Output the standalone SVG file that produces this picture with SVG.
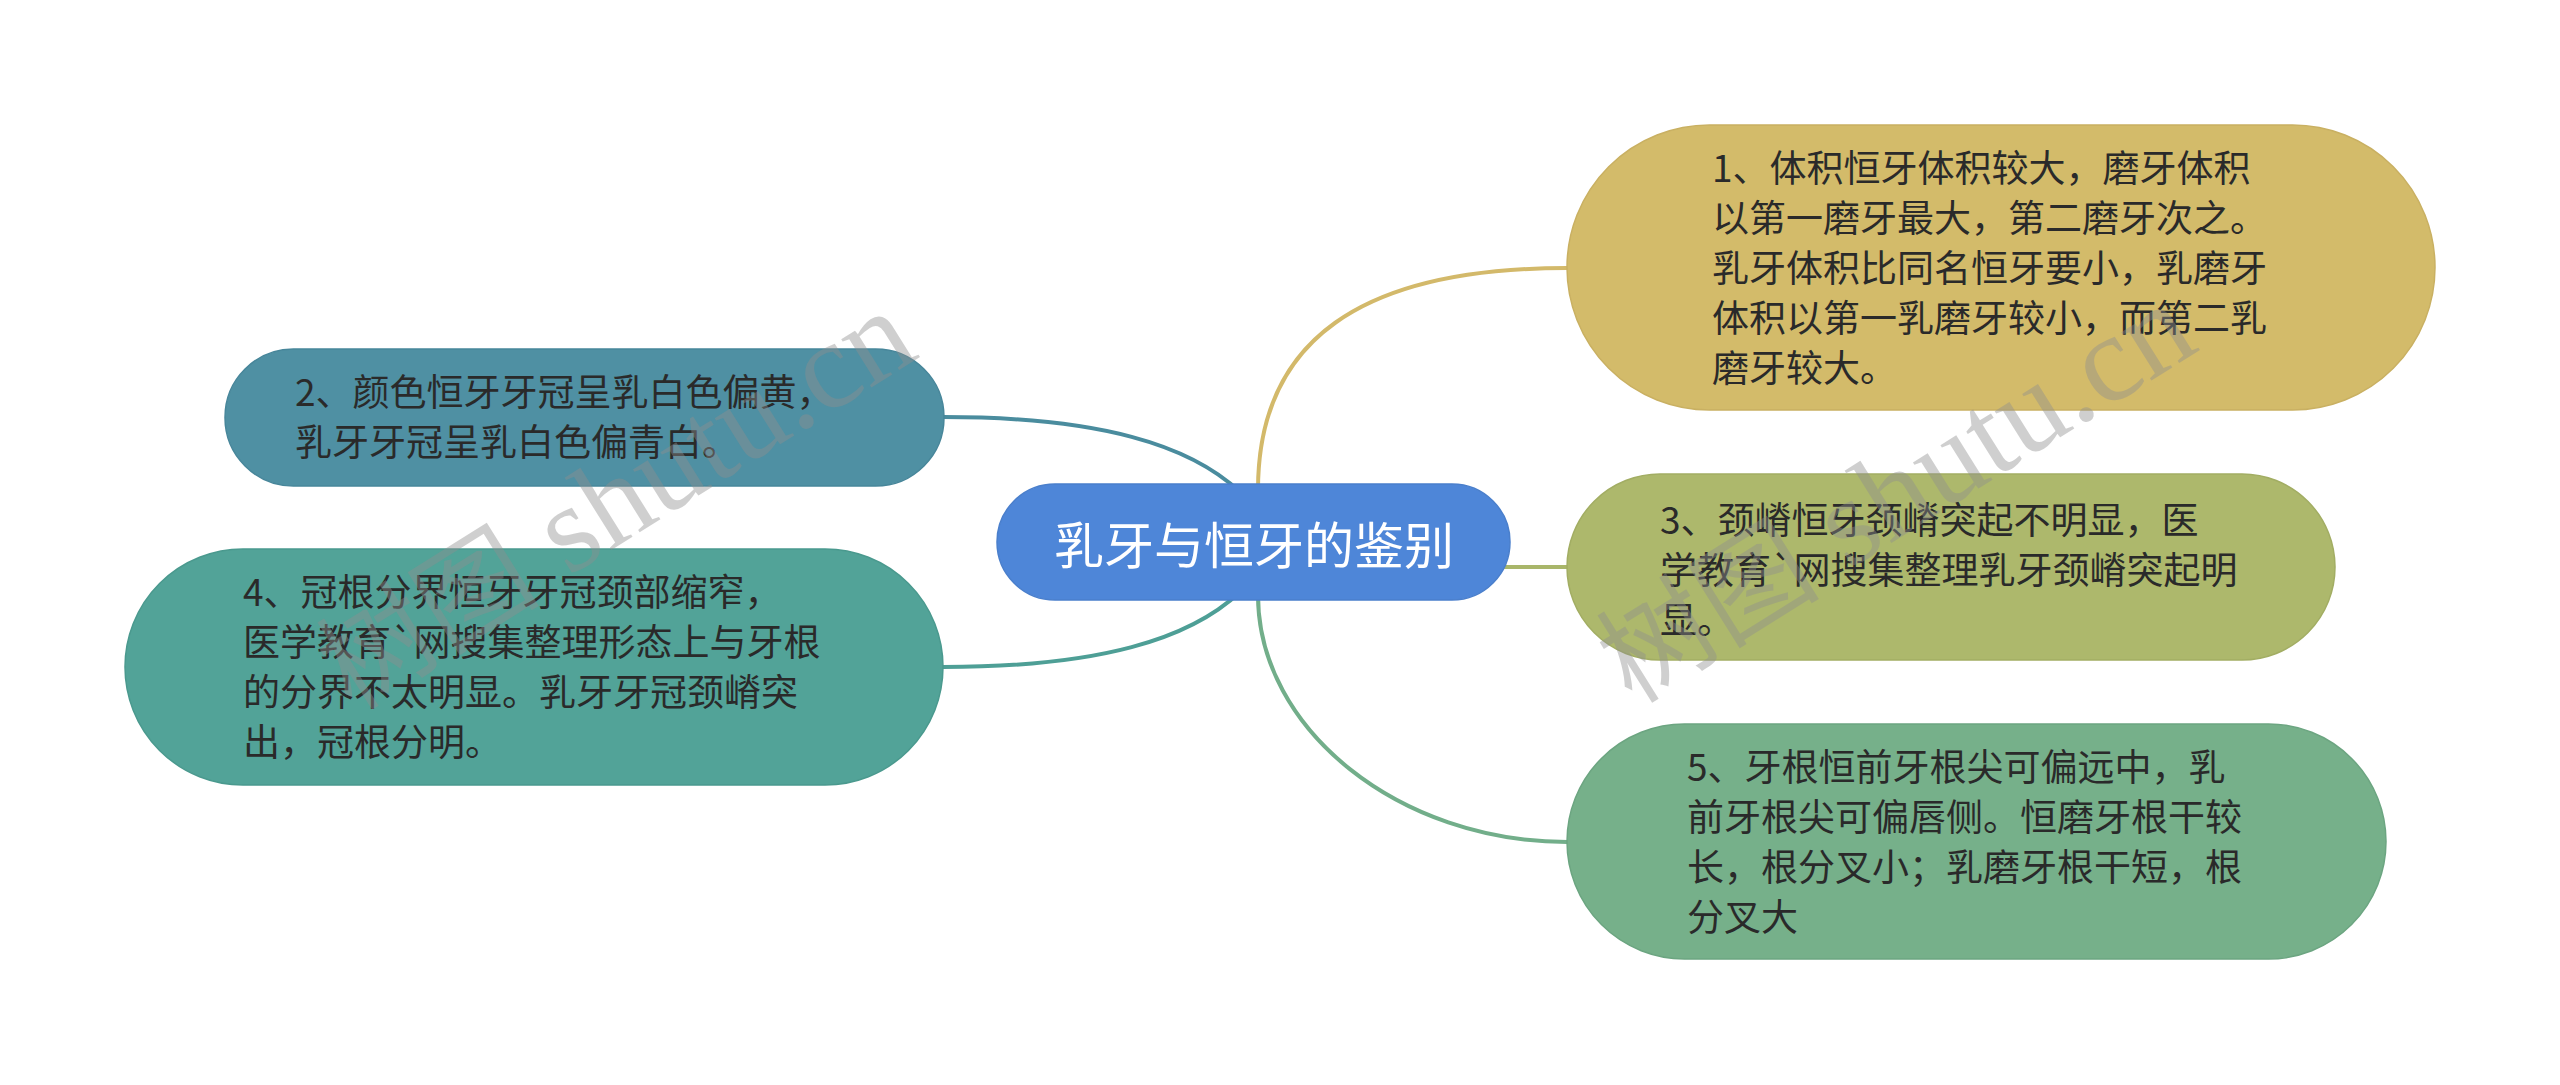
<svg xmlns="http://www.w3.org/2000/svg" width="2560" height="1085" viewBox="0 0 2560 1085">
<style>
.t{font-family:"Noto Sans CJK SC","Liberation Sans",sans-serif;font-size:37px;fill:#2a2a2a}
.c{font-family:"Noto Sans CJK SC","Liberation Sans",sans-serif;font-size:50px;fill:#ffffff}
.l{fill:none;stroke-width:4;stroke-linecap:round}
.wm{font-family:"Liberation Serif","Noto Sans CJK SC",serif;font-size:124px;fill:#8f8f8f;opacity:0.42}
.wc{font-family:"Noto Sans CJK SC",sans-serif;font-size:112px}
</style>
<rect width="2560" height="1085" fill="#ffffff"/>
<g id="connectors">
<path class="l" stroke="#d3b96a" d="M1258,490 C1258,340 1361,268 1567,268"/>
<path class="l" stroke="#a9b66a" d="M1452,567 H1567"/>
<path class="l" stroke="#72ae8a" d="M1258,595 C1258,730 1400,842 1567,842"/>
<path class="l" stroke="#4a8c9e" d="M1240,492 C1190,445 1100,417 943,417"/>
<path class="l" stroke="#4e9f96" d="M1240,592 C1190,639 1100,667 943,667"/>
</g>
<g id="center">
<rect x="997" y="484" width="513" height="116" rx="58" fill="#4e86d8" stroke="#4a7fcc" stroke-width="1.5"/>
<text class="c" x="1254" y="542" text-anchor="middle" dominant-baseline="central">乳牙与恒牙的鉴别</text>
</g>
<g id="node1">
<rect x="1567" y="125" width="868" height="285" rx="142.5" fill="#d3bb6a" stroke="#c9b062" stroke-width="1.5"/>
<text class="t"><tspan x="1712" y="182">1、体积恒牙体积较大，磨牙体积</tspan><tspan x="1712" y="232">以第一磨牙最大，第二磨牙次之。</tspan><tspan x="1712" y="282">乳牙体积比同名恒牙要小，乳磨牙</tspan><tspan x="1712" y="332">体积以第一乳磨牙较小，而第二乳</tspan><tspan x="1712" y="382">磨牙较大。</tspan></text>
</g>
<g id="node3">
<rect x="1567" y="474" width="768" height="186" rx="93" fill="#adb86c" stroke="#a2ad63" stroke-width="1.5"/>
<text class="t"><tspan x="1660" y="534">3、颈嵴恒牙颈嵴突起不明显，医</tspan><tspan x="1660" y="584">学教育`网搜集整理乳牙颈嵴突起明</tspan><tspan x="1660" y="634">显。</tspan></text>
</g>
<g id="node5">
<rect x="1567" y="724" width="819" height="235" rx="117.5" fill="#76b08a" stroke="#6ca581" stroke-width="1.5"/>
<text class="t"><tspan x="1687" y="781">5、牙根恒前牙根尖可偏远中，乳</tspan><tspan x="1687" y="831">前牙根尖可偏唇侧。恒磨牙根干较</tspan><tspan x="1687" y="881">长，根分叉小；乳磨牙根干短，根</tspan><tspan x="1687" y="931">分叉大</tspan></text>
</g>
<g id="node2">
<rect x="225" y="349" width="719" height="137" rx="68.5" fill="#4f90a3" stroke="#47869a" stroke-width="1.5"/>
<text class="t"><tspan x="295" y="406">2、颜色恒牙牙冠呈乳白色偏黄，</tspan><tspan x="295" y="456">乳牙牙冠呈乳白色偏青白。</tspan></text>
</g>
<g id="node4">
<rect x="125" y="549" width="818" height="236" rx="118" fill="#52a398" stroke="#4a998e" stroke-width="1.5"/>
<text class="t"><tspan x="243" y="606">4、冠根分界恒牙牙冠颈部缩窄，</tspan><tspan x="243" y="656">医学教育`网搜集整理形态上与牙根</tspan><tspan x="243" y="706">的分界不太明显。乳牙牙冠颈嵴突</tspan><tspan x="243" y="756">出，冠根分明。</tspan></text>
</g>
<g id="watermarks">
<text class="wm" transform="translate(352,712) rotate(-32)"><tspan class="wc">树图</tspan> shutu.cn</text>
<text class="wm" transform="translate(1632,705) rotate(-32)"><tspan class="wc">树图</tspan> shutu.cn</text>
</g>
</svg>
